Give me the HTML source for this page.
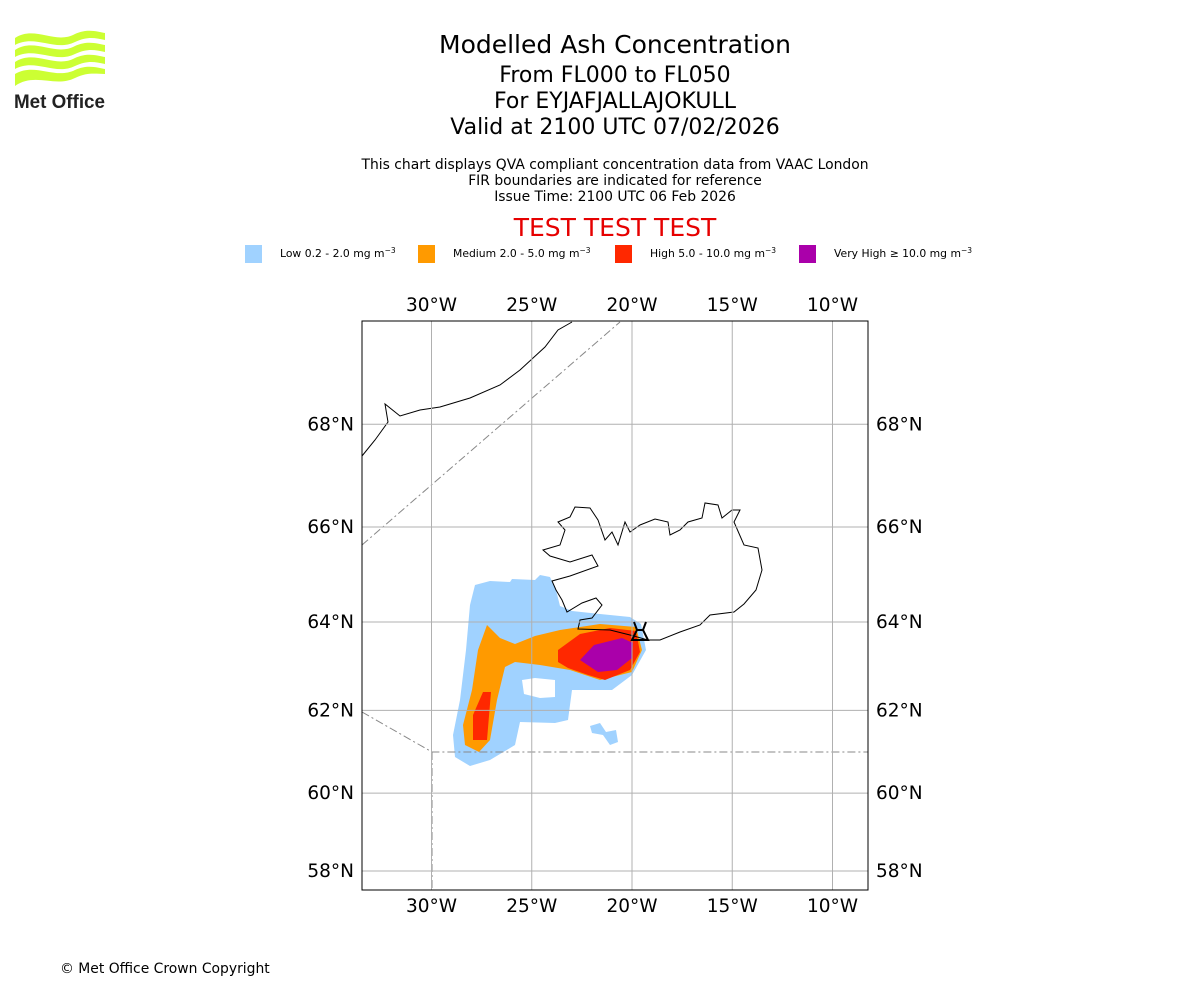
<!DOCTYPE html>
<html><head><meta charset="utf-8">
<style>
body{margin:0;background:#fff;font-family:"DejaVu Sans","Liberation Sans",sans-serif;}
#wrap{position:relative;width:1200px;height:1000px;overflow:hidden;}
.t{position:absolute;left:0;width:1230px;text-align:center;color:#000;white-space:nowrap;}
</style></head>
<body>
<div id="wrap">
<svg width="120" height="100" style="position:absolute;left:0;top:20px" viewBox="0 0 120 100">
  <g fill="#ccff33">
    <path d="M15 18 C35 5,55 25,75 14 C88 8,98 12,105 13 L105 20 C95 18,88 16,75 22 C55 32,35 14,15 25Z"/>
    <path d="M15 30 C35 17,55 37,75 26 C88 20,98 24,105 25 L105 32 C95 30,88 28,75 34 C55 44,35 26,15 37Z"/>
    <path d="M15 42 C35 29,55 49,75 38 C88 32,98 36,105 37 L105 44 C95 42,88 40,75 46 C55 56,35 38,15 49Z"/>
    <path d="M15 54 C35 42,55 60,75 50 C88 44,98 48,105 49 L105 54 C95 54,88 52,75 58 C55 68,35 52,15 66Z"/>
  </g>
  <text x="14" y="88" font-family="Liberation Sans,sans-serif" font-weight="bold" font-size="19" fill="#222" textLength="91" lengthAdjust="spacingAndGlyphs">Met Office</text>
</svg>
<div class="t" style="top:30px;font-size:25px;">Modelled Ash Concentration</div>
<div class="t" style="top:63px;font-size:22px;">From FL000 to FL050</div>
<div class="t" style="top:89px;font-size:22px;">For EYJAFJALLAJOKULL</div>
<div class="t" style="top:115px;font-size:22px;">Valid at 2100 UTC 07/02/2026</div>
<div class="t" style="top:157px;font-size:13.9px;">This chart displays QVA compliant concentration data from VAAC London</div>
<div class="t" style="top:173px;font-size:13.9px;">FIR boundaries are indicated for reference</div>
<div class="t" style="top:189px;font-size:13.9px;">Issue Time: 2100 UTC 06 Feb 2026</div>
<div class="t" style="top:213px;font-size:25px;color:#e60000;">TEST TEST TEST</div>
<div style="position:absolute;left:60px;top:961px;font-size:13.9px;">© Met Office Crown Copyright</div>
<svg id="map" width="1200" height="1000" style="position:absolute;left:0;top:0"></svg>
</div>
<script>
const legendLabels=["Low 0.2 - 2.0 mg m","Medium 2.0 - 5.0 mg m","High 5.0 - 10.0 mg m","Very High \u2265 10.0 mg m"];
const legendColors=["#a0d2ff","#ff9a00","#ff2800","#aa00aa"];
const legendX=[245,418,615,799];
const lonTicks=[-30,-25,-20,-15,-10];
const latTicks=[58,60,62,64,66,68];
const NS="http://www.w3.org/2000/svg";
const svg=document.getElementById('map');
const L=362,R=868,T=321,B=890;
function merc(lat){const r=lat*Math.PI/180;return Math.log(Math.tan(Math.PI/4+r/2));}
function xs(lon){return 632+(lon+20)*20.05;}
function ys(lat){return 871-(merc(lat)-merc(58))*1149;}
function mk(tag,attrs){const e=document.createElementNS(NS,tag);for(const k in attrs)e.setAttribute(k,attrs[k]);svg.appendChild(e);return e;}
legendLabels.forEach((lab,i)=>{
  const r=mk('rect',{x:legendX[i],y:245,width:17,height:18,fill:legendColors[i]});
  
  
  const t=mk('text',{x:legendX[i]+35,y:257,'font-size':10.8,'font-family':'DejaVu Sans,sans-serif'});
  
  
  t.textContent=lab;
  const s=document.createElementNS(NS,'tspan');s.setAttribute('dy','-4');s.setAttribute('font-size','7.5');s.textContent='\u22123';t.appendChild(s);
});
const plumes=[
 ["#a0d2ff","M475,585 L490,581 L510,582 L512,579 L535,580 L540,575 L550,577 L556,590 L560,606 L572,611 L600,614 L630,617 L641,624 L646,650 L632,675 L612,690 L572,690 L568,720 L555,723 L520,722 L515,745 L490,760 L470,766 L455,757 L453,735 L460,700 L466,650 L470,605 Z"],
 ["#a0d2ff","M590,726 L600,723 L606,732 L616,730 L618,742 L610,745 L603,735 L592,733 Z"],
 ["#ffffff","M522,680 L535,678 L555,680 L555,697 L540,698 L524,694 Z"],
 ["#ff9a00","M487,625 L500,638 L515,644 L535,636 L560,630 L600,624 L636,627 L642,650 L632,672 L600,680 L570,670 L540,665 L515,662 L505,667 L497,700 L490,740 L479,752 L465,745 L463,725 L472,690 L478,650 Z"],
 ["#ff2800","M558,650 L580,634 L610,628 L636,631 L640,652 L630,670 L605,680 L588,675 L568,668 L558,662 Z"],
 ["#ff2800","M483,692 L491,692 L487,740 L473,740 L473,715 Z"],
 ["#aa00aa","M580,660 L594,645 L622,638 L633,643 L632,658 L617,670 L598,672 Z"]
];
plumes.forEach(p=>{const e=mk('path',{d:p[1],fill:p[0]});

});
const ice=mk('path',{d:"M543,550 L560,545 L565,530 L558,522 L570,517 L575,507 L590,508 L598,520 L605,540 L612,532 L618,545 L625,522 L630,532 L640,525 L655,519 L668,522 L670,535 L680,530 L688,522 L702,518 L705,503 L718,505 L722,518 L732,510 L740,510 L734,522 L744,545 L758,548 L762,570 L756,590 L744,604 L734,612 L710,615 L700,625 L680,632 L660,640 L648,640 L630,635 L610,630 L578,629 L580,620 L592,618 L602,605 L596,598 L582,603 L567,612 L562,600 L556,590 L552,581 L570,576 L598,566 L592,555 L570,562 L550,556 Z",fill:"none",stroke:"#000","stroke-width":1});

const gr=mk('path',{d:"M362,456 L375,440 L388,422 L385,404 L400,416 L420,410 L440,407 L470,398 L500,385 L520,370 L545,347 L558,330 L572,322",fill:"none",stroke:"#000","stroke-width":1});

const fir=mk('path',{d:"M362,545 L620,322 M362,712 L432,752 L868,752 M432,752 L432,890",fill:"none",stroke:"#888","stroke-width":1,"stroke-dasharray":"8,3,2,3"});

lonTicks.forEach(lon=>{const x=xs(lon);
 const g=mk('line',{x1:x,x2:x,y1:T,y2:B,stroke:'#b0b0b0','stroke-width':1});
 
 [311,912].forEach(y=>{const t=mk('text',{x:x,y:y,'font-size':18.5,'text-anchor':'middle','font-family':'DejaVu Sans,sans-serif'});
 
 t.textContent=Math.abs(lon)+'°W';});});
latTicks.forEach(lat=>{const y=ys(lat);
 const g=mk('line',{x1:L,x2:R,y1:y,y2:y,stroke:'#b0b0b0','stroke-width':1});
 
 [[354,'end'],[876,'start']].forEach(p=>{const t=mk('text',{x:p[0],y:y+6,'font-size':18.5,'text-anchor':p[1],'font-family':'DejaVu Sans,sans-serif'});
 
 t.textContent=lat+'°N';});});
const v=mk('path',{d:"M634,622 L637,630 L632,640 L648,640 L643,630 L646,622 M637,630 L643,630 M632,640 L640,640",fill:"none",stroke:"#000","stroke-width":2});

const fr=mk('rect',{x:L,y:T,width:R-L,height:B-T,fill:'none',stroke:'#000','stroke-width':1});

</script>
</body></html>
